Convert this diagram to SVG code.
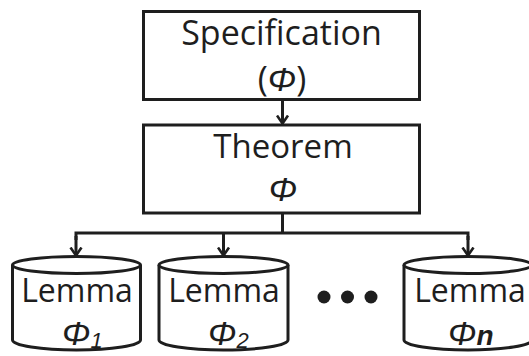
<svg xmlns="http://www.w3.org/2000/svg" width="529" height="356" viewBox="0 0 529 356">
<style>
.box{fill:#fff;stroke:#1e1e1e;stroke-width:3}
.cyl{fill:#fff;stroke:#1e1e1e;stroke-width:3}
.wire{fill:none;stroke:#1e1e1e;stroke-width:3}
.t{font-family:"Open Sans","DejaVu Sans",sans-serif;fill:#1e1e1e;text-anchor:middle}
.phi{font-family:"Liberation Sans",Arial,sans-serif;font-style:italic;fill:#1e1e1e}
</style>
<defs>
<marker id="ah" markerUnits="userSpaceOnUse" viewBox="0 0 10 14" refX="9" refY="7" markerWidth="10" markerHeight="14" orient="auto">
<path d="M1,1.5 L9,7 L1,12.5" fill="none" stroke="#1e1e1e" stroke-width="2.6"/>
</marker>
</defs>
<rect width="529" height="356" fill="#fff"/>
<g id="connectors">
<line class="wire" x1="282.5" y1="100" x2="282.5" y2="123.5" marker-end="url(#ah)"/>
<line class="wire" x1="282.5" y1="213" x2="282.5" y2="233"/>
<polyline class="wire" points="76,240 76,233 468,233 468,240"/>
<line class="wire" x1="76" y1="236" x2="76" y2="255.5" marker-end="url(#ah)"/>
<line class="wire" x1="223.5" y1="233" x2="223.5" y2="255.5" marker-end="url(#ah)"/>
<line class="wire" x1="468" y1="236" x2="468" y2="255.5" marker-end="url(#ah)"/>
</g>
<g id="spec">
<rect class="box" x="143.5" y="11.5" width="276" height="88"/>
<text class="t" x="281.5" y="45" font-size="34">Specification</text>
<text class="t" x="282" y="91" font-size="34">(<tspan class="phi">Φ</tspan>)</text>
</g>
<g id="theorem">
<rect class="box" x="143.5" y="125" width="276" height="88"/>
<text class="t" x="283" y="158" font-size="33">Theorem</text>
<text class="phi" x="283" y="201" font-size="34" text-anchor="middle">Φ</text>
</g>
<g id="lemma1">
<path class="cyl" d="M12.5,265 L12.5,340 A64,10 0 0 0 140.5,340 L140.5,265"/>
<ellipse class="cyl" cx="76.5" cy="265" rx="64" ry="8.5"/>
<text class="t" x="77" y="302" font-size="32">Lemma</text>
<text class="phi" x="62" y="345" font-size="34">Φ<tspan font-size="22" dy="3">1</tspan></text>
</g>
<g id="lemma2">
<path class="cyl" d="M159,265 L159,340 A64.5,10 0 0 0 288,340 L288,265"/>
<ellipse class="cyl" cx="223.5" cy="265" rx="64.5" ry="8.5"/>
<text class="t" x="224" y="302" font-size="32">Lemma</text>
<text class="phi" x="208" y="345" font-size="34">Φ<tspan font-size="22" dy="3">2</tspan></text>
</g>
<g id="dots">
<circle cx="324" cy="297" r="6.5" fill="#1e1e1e"/>
<circle cx="347.5" cy="297" r="6.5" fill="#1e1e1e"/>
<circle cx="371" cy="297" r="6.5" fill="#1e1e1e"/>
</g>
<g id="lemman">
<path class="cyl" d="M404,265 L404,340 A64,10 0 0 0 532,340 L532,265"/>
<ellipse class="cyl" cx="468" cy="265" rx="64" ry="8.5"/>
<text class="t" x="470" y="302" font-size="32">Lemma</text>
<text class="phi" x="448" y="345" font-size="34">Φ<tspan font-size="28" font-weight="bold">n</tspan></text>
</g>
</svg>
